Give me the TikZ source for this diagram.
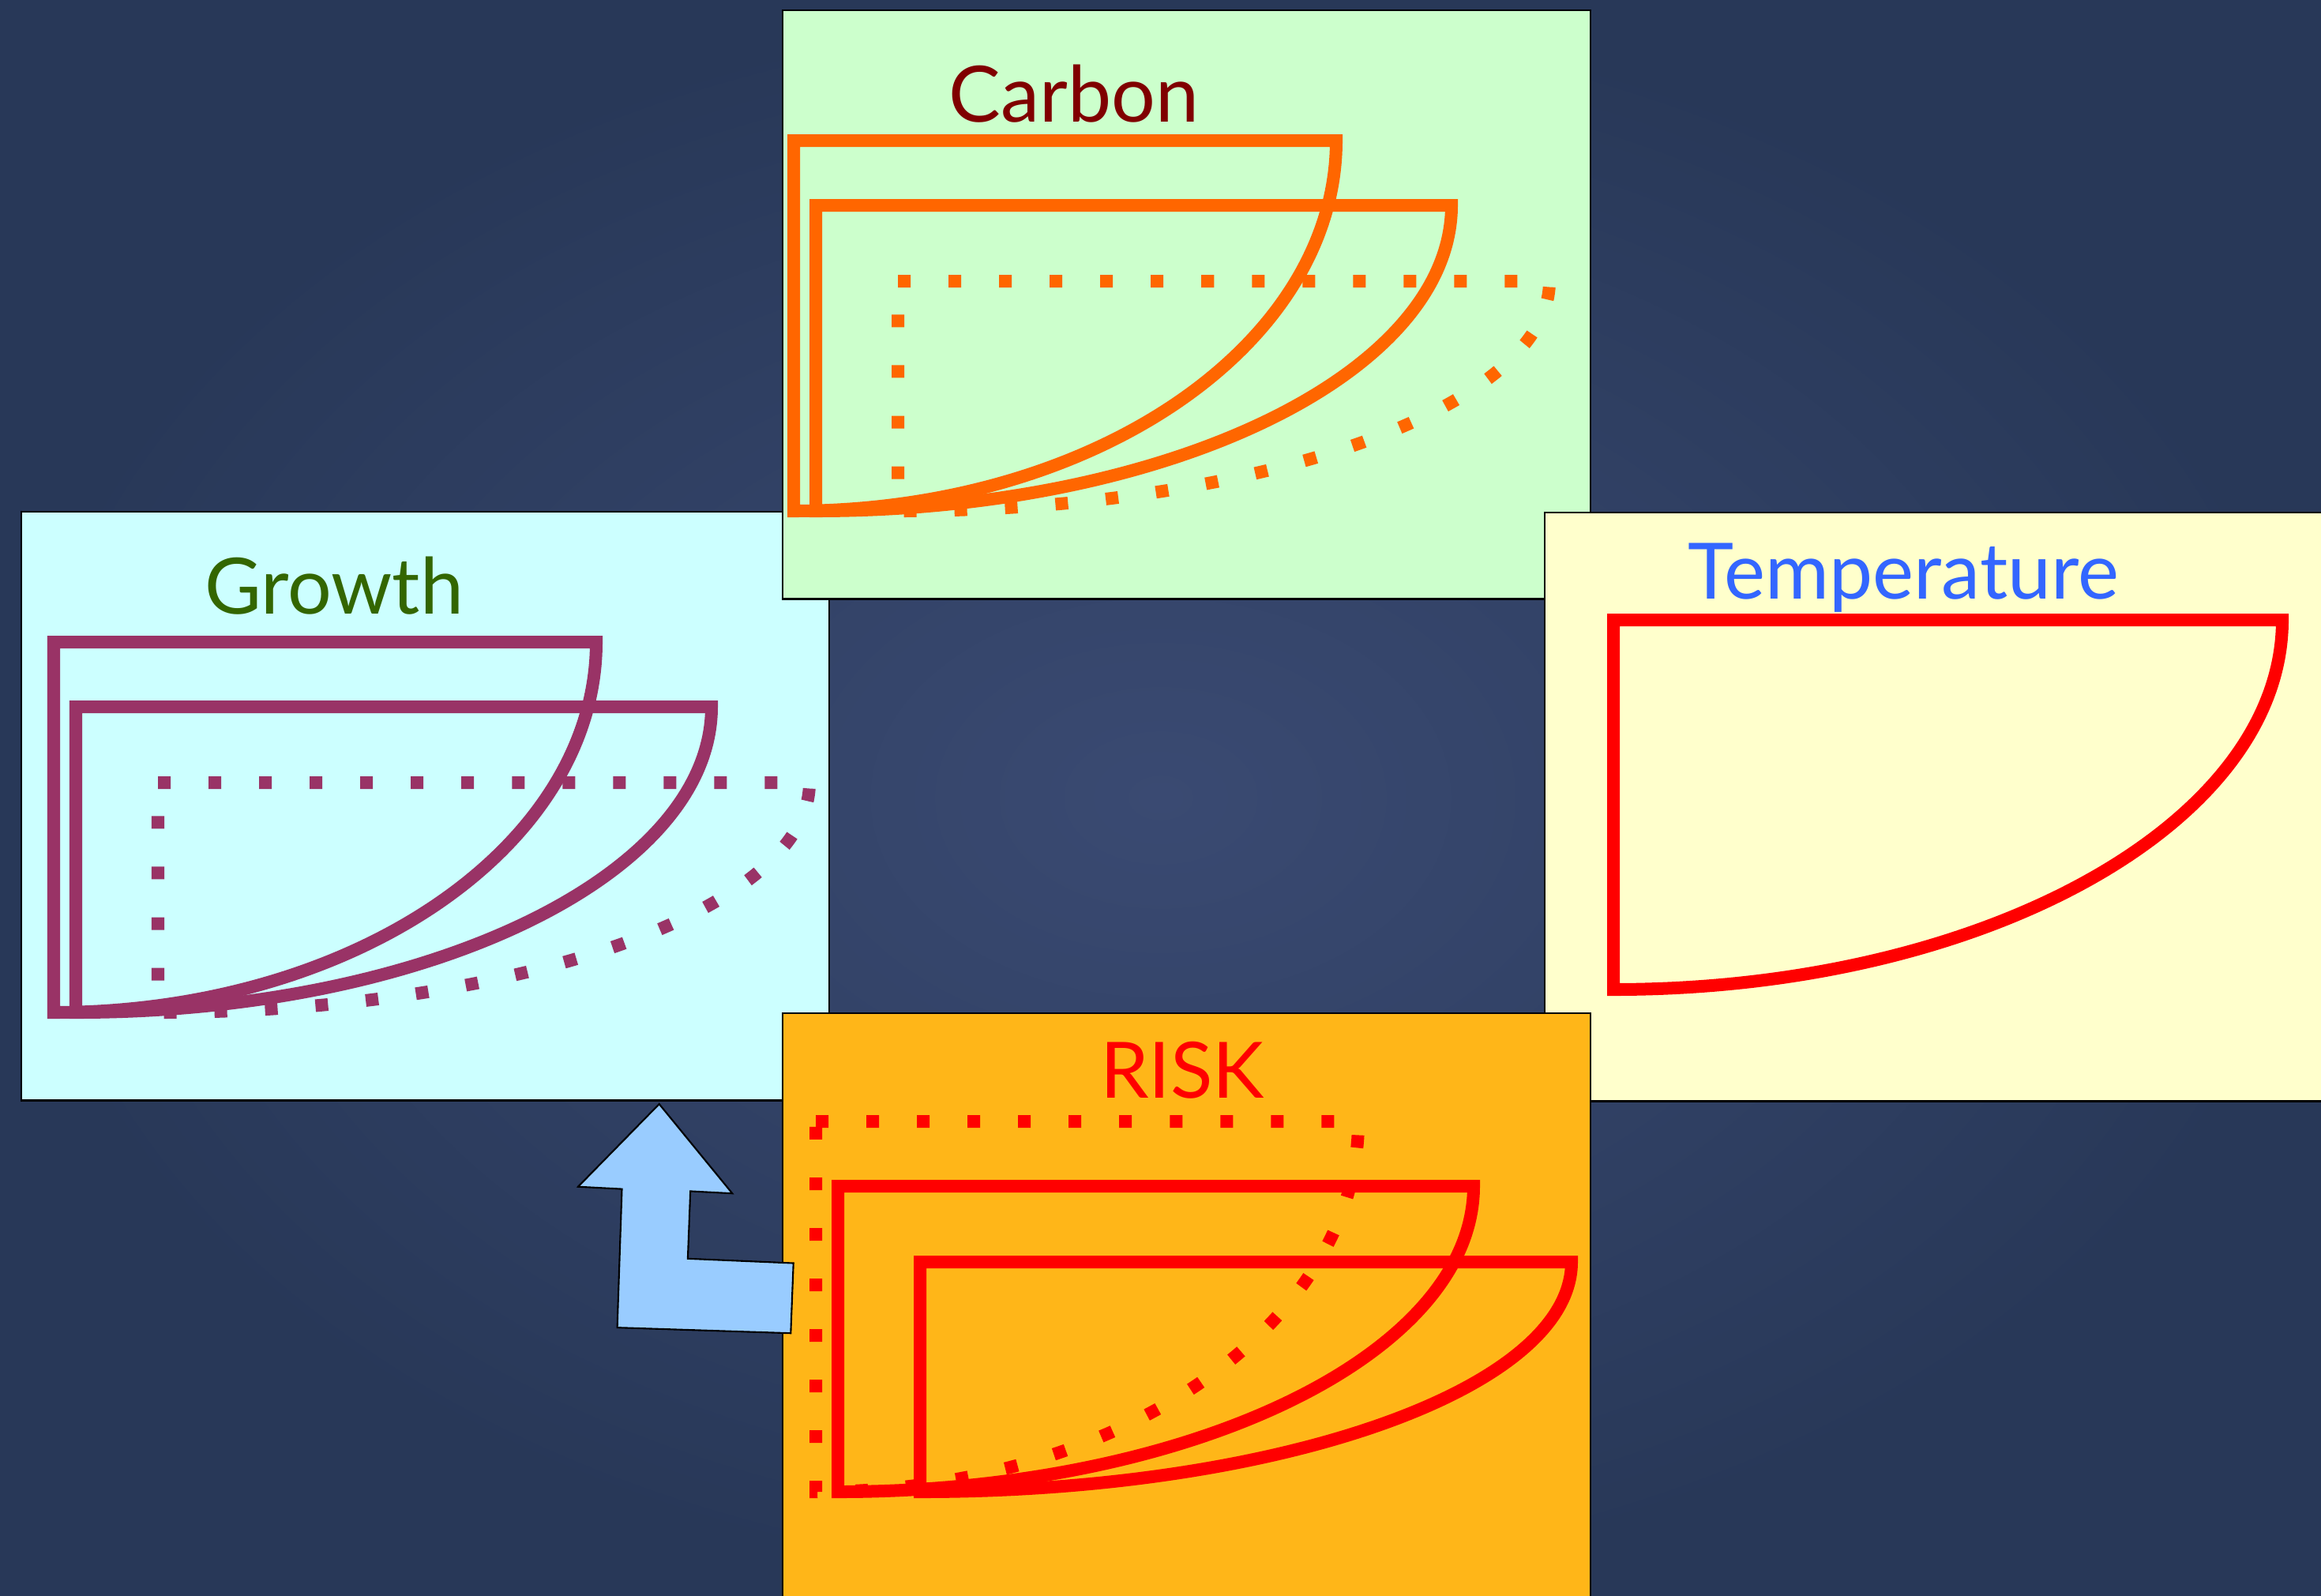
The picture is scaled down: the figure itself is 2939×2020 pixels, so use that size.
\documentclass[tikz,border=0pt]{standalone}
\usepackage{fontspec}
\setmainfont{Lato}
\usepackage{tikz}
\usetikzlibrary{positioning, calc}
\usepackage{xcolor}
\definecolor{bginner}{RGB}{58,74,114}
\definecolor{bgouter}{RGB}{40,56,88}
\definecolor{carbonbox}{RGB}{204,255,204}
\definecolor{growthbox}{RGB}{204,255,255}
\definecolor{tempbox}{RGB}{255,255,204}
\definecolor{riskbox}{RGB}{255,182,24}
\definecolor{carbonline}{RGB}{255,102,0}
\definecolor{growthline}{RGB}{153,51,102}
\definecolor{riskline}{RGB}{255,0,0}
\definecolor{carbontext}{RGB}{128,0,0}
\definecolor{growthtext}{RGB}{51,102,0}
\definecolor{temptext}{RGB}{51,102,255}
\definecolor{arrowfill}{RGB}{153,204,255}
\tikzset{
  panelbox/.style={rectangle, draw=black, line width=0.6pt, anchor=north west,
    minimum width=10.22cm, minimum height=7.45cm, inner sep=0pt},
  titletext/.style={anchor=base, inner sep=0pt, font=\fontsize{28}{34}\selectfont},
  solidcurve/.style={line width=0.16cm, line join=miter},
  dotcurve/.style={solidcurve, dash pattern=on 0.16cm off 0.48cm},
  bentarrow/.style={draw=black, line width=0.6pt, fill=arrowfill, line join=miter}
}
\newcommand{\quadshape}[5]{%
  \draw[#1] (#2,#3) -- ++(#4,0) .. controls +(0,0.5523*#5) and +(0.5523*#4,0) .. ++(-#4,#5) -- cycle;}
\newcommand{\shapeset}[5]{%
  \quadshape{#3}{#1}{#2}{687}{469}
  \quadshape{#4}{#1+28}{#2+82}{805}{387}
  \quadshape{#5}{#1+132}{#2+178}{825}{291}}

\begin{document}
\begin{tikzpicture}[x=0.01cm, y=-0.01cm]
  \clip (0,0) rectangle (2939,2020);
  \shade[inner color=bginner, outer color=bgouter] (0,0) rectangle (2939,2020);

  \node[panelbox, fill=growthbox] (growth) at (26,647) {};
  \node[titletext, text=growthtext] (growthlabel) at (423,777) {Growth};
  \shapeset{68}{813}{solidcurve, draw=growthline}{solidcurve, draw=growthline}{dotcurve, draw=growthline}

  \node[panelbox, fill=carbonbox] (carbon) at (990,12) {};
  \node[titletext, text=carbontext] (carbonlabel) at (1360,154) {Carbon};
  \shapeset{1005}{178}{solidcurve, draw=carbonline}{solidcurve, draw=carbonline}{dotcurve, draw=carbonline}

  \node[panelbox, fill=tempbox] (temp) at (1955,648) {};
  \node[titletext, text=temptext] (templabel) at (2410,758) {Temperature};
  \quadshape{solidcurve, draw=riskline}{2043}{785}{847}{468}

  \node[panelbox, fill=riskbox] (risk) at (990,1282) {};
  \node[titletext, text=riskline] (risklabel) at (1497,1390) {RISK};
  \shapeset{1033}{1420}{dotcurve, draw=riskline}{solidcurve, draw=riskline}{solidcurve, draw=riskline}

  \draw[bentarrow] (834.7,1398) -- (927.3,1511.2) -- (874.2,1508.4) -- (870.9,1593.8)
    -- (1004.7,1599.5) -- (1001.3,1688.2) -- (781.6,1681.1) -- (787.5,1505.6)
    -- (732,1502.7) -- cycle;
\end{tikzpicture}
\end{document}
